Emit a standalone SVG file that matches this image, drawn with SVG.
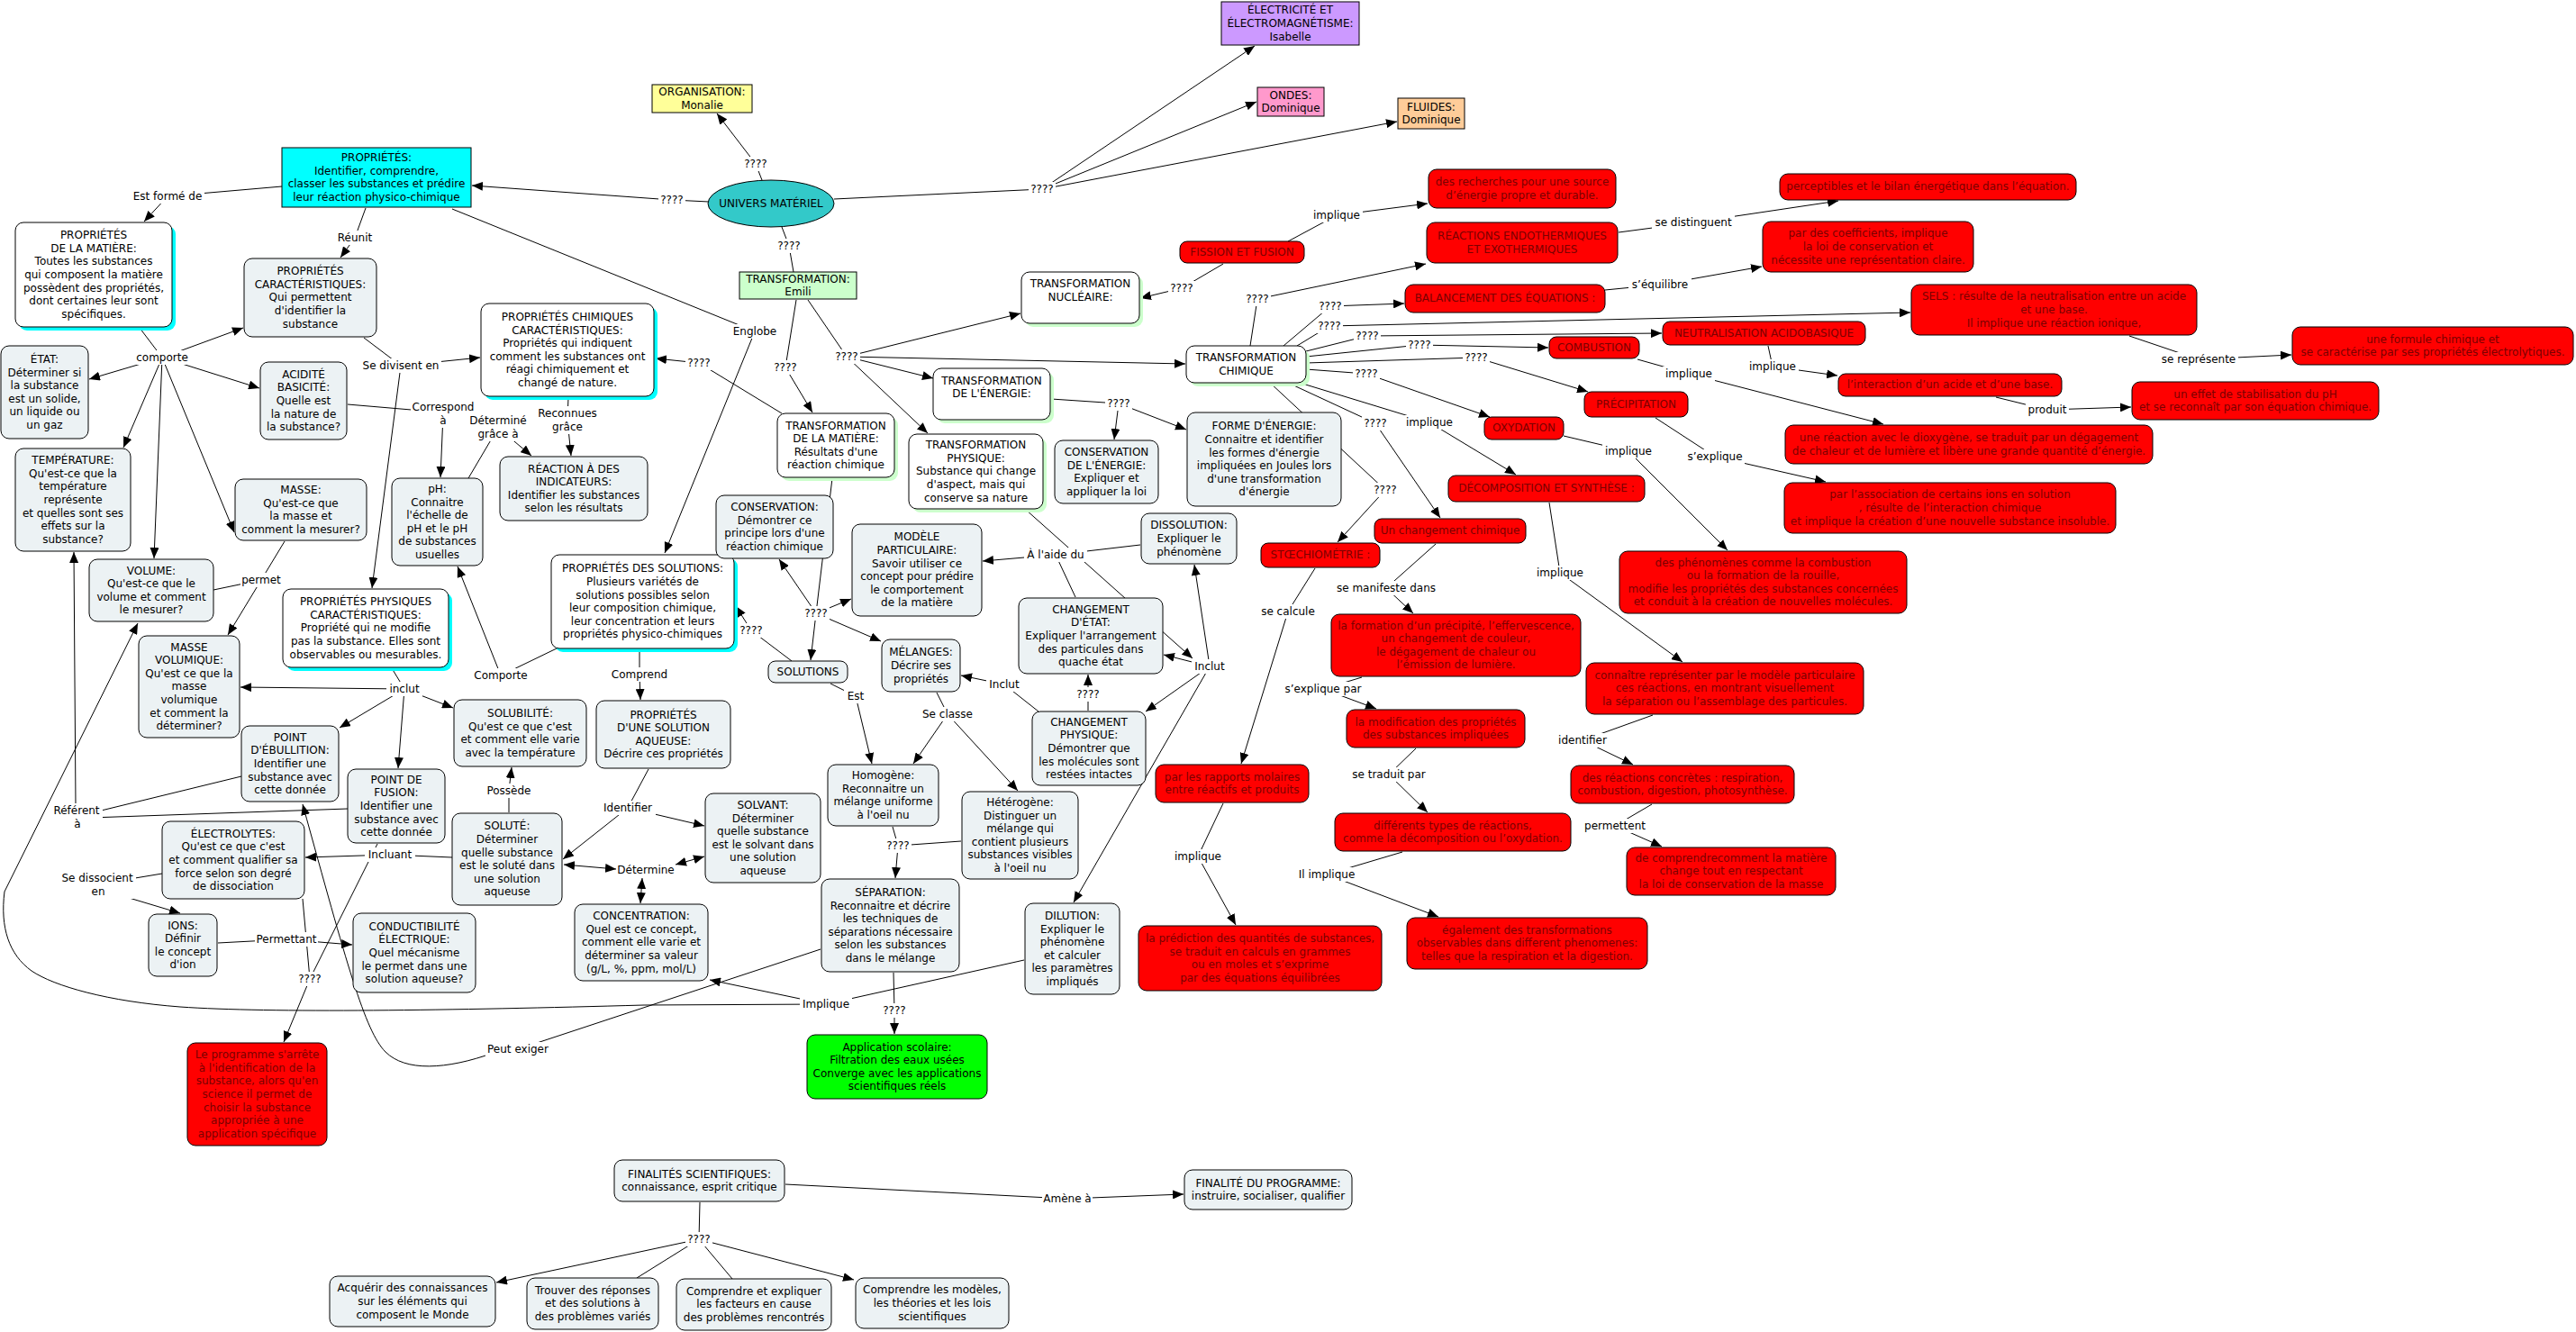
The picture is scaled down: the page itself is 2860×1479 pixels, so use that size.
<svg xmlns="http://www.w3.org/2000/svg" width="2860" height="1479" viewBox="0 0 2860 1479">
<style>
text{font-family:"DejaVu Sans",Verdana,"Liberation Sans",sans-serif;font-size:12px;text-anchor:middle;fill:#000}
.rt{fill:#7a0000}
.c{fill:none;stroke:#000;stroke-width:1}
.a{fill:none;stroke:#000;stroke-width:1;marker-end:url(#ah)}
.d{fill:none;stroke:#000;stroke-width:1;marker-end:url(#ah);marker-start:url(#ahs)}
.lb rect{fill:#fff;stroke:none}
.b{stroke:#000;stroke-width:1}
.lt{fill:#ecf2f4}
.wh{fill:#fff}
.rd{fill:#ff0000}
.shc{fill:#00ffff}
.shg{fill:#ccffcc}
</style>
<defs>
<marker id="ah" viewBox="0 0 12 10" refX="12" refY="5" markerWidth="12" markerHeight="10" markerUnits="userSpaceOnUse" orient="auto"><path d="M0,0 L12,5 L0,10 z" fill="#000"/></marker>
<marker id="ahs" viewBox="0 0 12 10" refX="12" refY="5" markerWidth="12" markerHeight="10" markerUnits="userSpaceOnUse" orient="auto-start-reverse"><path d="M0,0 L12,5 L0,10 z" fill="#000"/></marker>
</defs>
<rect x="0" y="0" width="2860" height="1479" fill="#fff"/>
<g id="connectors">
<path class="c" d="M846,200 L839,182"/><path class="a" d="M839,182 L796,126"/>
<path class="c" d="M787,224 L746,222"/><path class="a" d="M746,222 L524,206"/>
<path class="c" d="M926,221 L1157,210"/><path class="a" d="M1157,210 L1393,51"/><path class="a" d="M1157,210 L1395,113"/><path class="a" d="M1157,210 L1551,135"/>
<path class="c" d="M868,252 L876,273 L881,302"/>
<path class="c" d="M313,207 L186,218"/><path class="a" d="M186,218 L160,246"/>
<path class="c" d="M406,231 L394,264"/><path class="a" d="M394,264 L378,286"/>
<path class="c" d="M502,232 L838,368"/><path class="a" d="M838,368 L738,614"/>
<path class="c" d="M155,364 L180,397"/>
<path class="a" d="M180,397 L270,364"/><path class="a" d="M180,397 L99,421"/><path class="a" d="M180,397 L288,431"/><path class="a" d="M180,397 L137,497"/><path class="a" d="M180,397 L171,620"/><path class="a" d="M180,397 L260,591"/>
<path class="c" d="M404,375 L445,406"/><path class="a" d="M445,406 L533,397"/><path class="a" d="M445,406 L413,653"/>
<path class="c" d="M386,449 L492,458"/><path class="a" d="M492,460 L489,530"/>
<path class="c" d="M520,531 L553,475"/><path class="a" d="M553,475 L590,506"/>
<path class="c" d="M631,441 L630,466"/><path class="a" d="M630,466 L634,506"/>
<path class="c" d="M316,601 L290,644"/><path class="c" d="M237,655 L290,644"/><path class="a" d="M290,644 L253,705"/>
<path class="c" d="M435,742 L449,765"/><path class="a" d="M449,765 L267,763"/><path class="a" d="M449,765 L377,808"/><path class="a" d="M449,765 L442,853"/><path class="a" d="M449,765 L503,786"/>
<path class="c" d="M618,720 L556,750"/><path class="a" d="M556,750 L508,629"/>
<path class="c" d="M710,721 L710,749"/><path class="a" d="M710,749 L711,777"/>
<path class="c" d="M565,902 L565,878"/><path class="a" d="M565,878 L568,852"/>
<path class="c" d="M720,854 L697,897"/><path class="a" d="M697,897 L625,954"/><path class="a" d="M697,897 L782,917"/>
<path class="d" d="M684,965 L626,960"/><path class="d" d="M750,960 L782,951"/><path class="d" d="M713,975 L711,1003"/>
<path class="c" d="M268,862 L100,903"/><path class="c" d="M386,898 L100,908"/><path class="a" d="M84,895 L82,613"/>
<path class="c" d="M502,952 L433,949"/><path class="a" d="M433,949 L339,952"/>
<path class="c" d="M180,970 L108,982"/><path class="a" d="M120,990 L200,1014"/>
<path class="c" d="M242,1047 L318,1043"/><path class="a" d="M318,1043 L391,1049"/>
<path class="c" d="M336,998 L344,1087"/><path class="c" d="M419,937 L344,1087"/><path class="a" d="M344,1087 L315,1157"/>
<path class="c" d="M911,1054 L575,1165"/>
<path class="a" d="M548,1169 C495,1188 450,1190 428,1168 C405,1145 385,1070 336,893"/>
<path class="c" d="M1137,1066 L917,1115"/><path class="a" d="M917,1115 L788,1088"/>
<path class="a" d="M917,1115 L715,1116 C500,1122 300,1125 200,1118 C120,1112 60,1095 35,1078 C10,1060 0,1030 5,990 L153,692"/>
<path class="c" d="M992,1080 L993,1122"/><path class="a" d="M993,1122 L993,1148"/>
<path class="c" d="M991,918 L997,939"/><path class="c" d="M1067,934 L997,939"/><path class="a" d="M997,939 L994,975"/>
<path class="c" d="M922,759 L950,773"/><path class="a" d="M950,773 L968,848"/>
<path class="c" d="M1040,769 L1052,793"/><path class="a" d="M1052,793 L1014,848"/><path class="a" d="M1052,793 L1130,878"/>
<path class="c" d="M1153,790 L1115,760"/><path class="a" d="M1115,760 L1067,750"/>
<path class="c" d="M1208,789 L1208,771"/><path class="a" d="M1208,771 L1208,749"/>
<path class="a" d="M1139,566 L1324,731"/>
<path class="a" d="M1343,740 L1326,627"/><path class="a" d="M1343,740 L1292,727"/><path class="a" d="M1343,740 L1272,790"/><path class="a" d="M1343,740 L1192,1002"/>
<path class="c" d="M1266,605 L1172,616"/><path class="c" d="M1194,663 L1172,616"/><path class="a" d="M1172,616 L1091,623"/>
<path class="c" d="M924,531 L906,681"/><path class="a" d="M906,681 L865,621"/><path class="a" d="M906,681 L945,665"/><path class="a" d="M906,681 L978,712"/><path class="a" d="M906,681 L900,733"/>
<path class="c" d="M879,734 L834,700"/><path class="a" d="M834,700 L817,673"/>
<path class="c" d="M868,459 L776,403"/><path class="a" d="M776,403 L728,398"/>
<path class="c" d="M884,333 L872,408"/><path class="a" d="M872,408 L902,458"/>
<path class="c" d="M897,333 L940,396"/><path class="a" d="M940,396 L1133,348"/><path class="a" d="M940,396 L1316,404"/><path class="a" d="M940,396 L1036,420"/><path class="a" d="M940,396 L1030,481"/>
<path class="c" d="M1167,443 L1242,448"/><path class="a" d="M1242,448 L1237,488"/><path class="a" d="M1242,448 L1317,477"/>
<path class="c" d="M1358,293 L1312,320"/><path class="a" d="M1312,320 L1266,331"/>
<path class="c" d="M1430,268 L1484,239"/><path class="a" d="M1484,239 L1585,226"/>
<path class="c" d="M1388,384 L1396,332"/><path class="a" d="M1396,332 L1583,293"/>
<path class="c" d="M1797,258 L1880,247"/><path class="a" d="M1880,247 L2041,223"/>
<path class="c" d="M1425,384 L1477,340"/><path class="a" d="M1477,340 L1559,337"/>
<path class="c" d="M1782,322 L1843,316"/><path class="a" d="M1843,316 L1956,296"/>
<path class="c" d="M1440,384 L1476,362"/><path class="a" d="M1476,362 L2121,347"/>
<path class="c" d="M1450,390 L1518,373"/><path class="a" d="M1518,373 L1845,370"/>
<path class="c" d="M1450,396 L1576,383"/><path class="a" d="M1576,383 L1719,386"/>
<path class="c" d="M1450,403 L1639,397"/><path class="a" d="M1639,397 L1763,435"/>
<path class="c" d="M1450,410 L1517,415"/><path class="a" d="M1517,415 L1654,463"/>
<path class="c" d="M1443,425 L1587,469"/><path class="a" d="M1587,469 L1683,527"/>
<path class="c" d="M1430,425 L1527,470"/><path class="a" d="M1527,470 L1599,575"/>
<path class="c" d="M1410,425 L1538,544"/><path class="a" d="M1538,544 L1485,602"/>
<path class="c" d="M1818,399 L1875,415"/><path class="a" d="M1875,415 L2091,471"/>
<path class="c" d="M1963,384 L1968,407"/><path class="a" d="M1968,407 L2040,417"/>
<path class="c" d="M2216,441 L2273,455"/><path class="a" d="M2273,455 L2366,452"/>
<path class="c" d="M2364,373 L2441,399"/><path class="a" d="M2441,399 L2544,394"/>
<path class="c" d="M1838,464 L1904,507"/><path class="a" d="M1904,507 L2027,535"/>
<path class="c" d="M1736,484 L1808,501"/><path class="a" d="M1808,501 L1918,611"/>
<path class="c" d="M1720,558 L1732,636"/><path class="a" d="M1732,636 L1868,735"/>
<path class="c" d="M1835,794 L1757,822"/><path class="a" d="M1757,822 L1813,849"/>
<path class="c" d="M1834,893 L1793,917"/><path class="a" d="M1793,917 L1845,940"/>
<path class="c" d="M1594,604 L1539,653"/><path class="a" d="M1539,653 L1569,681"/>
<path class="c" d="M1512,752 L1469,765"/><path class="a" d="M1469,765 L1528,787"/>
<path class="c" d="M1572,831 L1542,860"/><path class="a" d="M1542,860 L1585,902"/>
<path class="c" d="M1557,946 L1473,971"/><path class="a" d="M1473,971 L1597,1018"/>
<path class="c" d="M1460,631 L1430,679"/><path class="a" d="M1430,679 L1378,848"/>
<path class="c" d="M1358,892 L1330,951"/><path class="a" d="M1330,951 L1372,1027"/>
<path class="c" d="M872,1315 L1185,1331"/><path class="a" d="M1185,1331 L1314,1326"/>
<path class="c" d="M777,1335 L776,1376"/><path class="a" d="M776,1376 L551,1424"/><path class="c" d="M776,1376 L707,1419"/><path class="c" d="M776,1376 L813,1420"/><path class="a" d="M776,1376 L948,1421"/>
<g class="lb">
<rect x="824" y="174" width="30" height="16"/><text x="839" y="186">????</text>
<rect x="731" y="214" width="30" height="16"/><text x="746" y="226">????</text>
<rect x="1142" y="202" width="30" height="16"/><text x="1157" y="214">????</text>
<rect x="861" y="265" width="30" height="16"/><text x="876" y="277">????</text>
<rect x="145" y="210" width="82" height="16"/><text x="186" y="222">Est formé de</text>
<rect x="372" y="256" width="44" height="16"/><text x="394" y="268">Réunit</text>
<rect x="149" y="389" width="62" height="16"/><text x="180" y="401">comporte</text>
<rect x="400" y="398" width="90" height="16"/><text x="445" y="410">Se divisent en</text>
<rect x="456" y="444" width="72" height="31"/><text x="492" y="456">Correspond</text><text x="492" y="471">à</text>
<rect x="520" y="459" width="66" height="31"/><text x="553" y="471">Déterminé</text><text x="553" y="486">grâce à</text>
<rect x="596" y="451" width="68" height="31"/><text x="630" y="463">Reconnues</text><text x="630" y="478">grâce</text>
<rect x="811" y="360" width="54" height="16"/><text x="838" y="372">Englobe</text>
<rect x="267" y="636" width="46" height="16"/><text x="290" y="648">permet</text>
<rect x="429" y="757" width="40" height="16"/><text x="449" y="769">inclut</text>
<rect x="524" y="742" width="64" height="16"/><text x="556" y="754">Comporte</text>
<rect x="677" y="741" width="66" height="16"/><text x="710" y="753">Comprend</text>
<rect x="538" y="870" width="54" height="16"/><text x="565" y="882">Possède</text>
<rect x="666" y="889" width="62" height="16"/><text x="697" y="901">Identifier</text>
<rect x="685" y="958" width="64" height="16"/><text x="717" y="970">Détermine</text>
<rect x="56" y="892" width="58" height="31"/><text x="85" y="904">Référent</text><text x="86" y="919">à</text>
<rect x="405" y="941" width="56" height="16"/><text x="433" y="953">Incluant</text>
<rect x="65" y="967" width="86" height="31"/><text x="108" y="979">Se dissocient</text><text x="109" y="994">en</text>
<rect x="283" y="1035" width="70" height="16"/><text x="318" y="1047">Permettant</text>
<rect x="329" y="1079" width="30" height="16"/><text x="344" y="1091">????</text>
<rect x="539" y="1157" width="72" height="16"/><text x="575" y="1169">Peut exiger</text>
<rect x="888" y="1107" width="58" height="16"/><text x="917" y="1119">Implique</text>
<rect x="978" y="1114" width="30" height="16"/><text x="993" y="1126">????</text>
<rect x="982" y="931" width="30" height="16"/><text x="997" y="943">????</text>
<rect x="937" y="765" width="26" height="16"/><text x="950" y="777">Est</text>
<rect x="1021" y="785" width="62" height="16"/><text x="1052" y="797">Se classe</text>
<rect x="1095" y="752" width="40" height="16"/><text x="1115" y="764">Inclut</text>
<rect x="1193" y="763" width="30" height="16"/><text x="1208" y="775">????</text>
<rect x="1323" y="732" width="40" height="16"/><text x="1343" y="744">Inclut</text>
<rect x="1137" y="608" width="70" height="16"/><text x="1172" y="620">À l'aide du</text>
<rect x="891" y="673" width="30" height="16"/><text x="906" y="685">????</text>
<rect x="819" y="692" width="30" height="16"/><text x="834" y="704">????</text>
<rect x="761" y="395" width="30" height="16"/><text x="776" y="407">????</text>
<rect x="857" y="400" width="30" height="16"/><text x="872" y="412">????</text>
<rect x="925" y="388" width="30" height="16"/><text x="940" y="400">????</text>
<rect x="1227" y="440" width="30" height="16"/><text x="1242" y="452">????</text>
<rect x="1297" y="312" width="30" height="16"/><text x="1312" y="324">????</text>
<rect x="1455" y="231" width="58" height="16"/><text x="1484" y="243">implique</text>
<rect x="1381" y="324" width="30" height="16"/><text x="1396" y="336">????</text>
<rect x="1834" y="239" width="92" height="16"/><text x="1880" y="251">se distinguent</text>
<rect x="1462" y="332" width="30" height="16"/><text x="1477" y="344">????</text>
<rect x="1808" y="308" width="70" height="16"/><text x="1843" y="320">s’équilibre</text>
<rect x="1461" y="354" width="30" height="16"/><text x="1476" y="366">????</text>
<rect x="1503" y="365" width="30" height="16"/><text x="1518" y="377">????</text>
<rect x="1561" y="375" width="30" height="16"/><text x="1576" y="387">????</text>
<rect x="1624" y="389" width="30" height="16"/><text x="1639" y="401">????</text>
<rect x="1502" y="407" width="30" height="16"/><text x="1517" y="419">????</text>
<rect x="1558" y="461" width="58" height="16"/><text x="1587" y="473">implique</text>
<rect x="1512" y="462" width="30" height="16"/><text x="1527" y="474">????</text>
<rect x="1523" y="536" width="30" height="16"/><text x="1538" y="548">????</text>
<rect x="1846" y="407" width="58" height="16"/><text x="1875" y="419">implique</text>
<rect x="1939" y="399" width="58" height="16"/><text x="1968" y="411">implique</text>
<rect x="2249" y="447" width="48" height="16"/><text x="2273" y="459">produit</text>
<rect x="2397" y="391" width="88" height="16"/><text x="2441" y="403">se représente</text>
<rect x="1871" y="499" width="66" height="16"/><text x="1904" y="511">s’explique</text>
<rect x="1779" y="493" width="58" height="16"/><text x="1808" y="505">implique</text>
<rect x="1703" y="628" width="58" height="16"/><text x="1732" y="640">implique</text>
<rect x="1727" y="814" width="60" height="16"/><text x="1757" y="826">identifier</text>
<rect x="1757" y="909" width="72" height="16"/><text x="1793" y="921">permettent</text>
<rect x="1483" y="645" width="112" height="16"/><text x="1539" y="657">se manifeste dans</text>
<rect x="1423" y="757" width="92" height="16"/><text x="1469" y="769">s’explique par</text>
<rect x="1497" y="852" width="90" height="16"/><text x="1542" y="864">se traduit par</text>
<rect x="1439" y="963" width="68" height="16"/><text x="1473" y="975">Il implique</text>
<rect x="1396" y="671" width="68" height="16"/><text x="1430" y="683">se calcule</text>
<rect x="1301" y="943" width="58" height="16"/><text x="1330" y="955">implique</text>
<rect x="1157" y="1323" width="56" height="16"/><text x="1185" y="1335">Amène à</text>
<rect x="761" y="1368" width="30" height="16"/><text x="776" y="1380">????</text>
</g>
</g>
<g id="n-elec"><rect class="b" x="1356" y="2" width="153" height="48" fill="#cc99ff"/><text x="1432.5" y="15.3"><tspan x="1432.5">ÉLECTRICITÉ ET</tspan><tspan x="1432.5" dy="14.6">ÉLECTROMAGNÉTISME:</tspan><tspan x="1432.5" dy="14.6">Isabelle</tspan></text></g>
<g id="n-org"><rect class="b" x="724" y="94" width="111" height="31" fill="#ffff99"/><text x="779.5" y="106.1"><tspan x="779.5">ORGANISATION:</tspan><tspan x="779.5" dy="14.6">Monalie</tspan></text></g>
<g id="n-ondes"><rect class="b" x="1396" y="97" width="74" height="32" fill="#ff99cc"/><text x="1433" y="109.6"><tspan x="1433">ONDES:</tspan><tspan x="1433" dy="14.6">Dominique</tspan></text></g>
<g id="n-fluides"><rect class="b" x="1552" y="109" width="74" height="34" fill="#ffcc99"/><text x="1589" y="122.6"><tspan x="1589">FLUIDES:</tspan><tspan x="1589" dy="14.6">Dominique</tspan></text></g>
<g id="n-univers"><ellipse class="b" cx="856" cy="226" rx="70" ry="26" fill="#33c9c9"/><text x="856" y="229.9">UNIVERS MATÉRIEL</text></g>
<g id="n-prop"><rect class="b" x="313" y="164" width="210" height="66" fill="#00ffff"/><text x="418" y="179"><tspan x="418">PROPRIÉTÉS:</tspan><tspan x="418" dy="14.6">Identifier, comprendre,</tspan><tspan x="418" dy="14.6">classer les substances et prédire</tspan><tspan x="418" dy="14.6">leur réaction physico-chimique</tspan></text></g>
<g id="n-propmat"><rect class="shc" x="21" y="251" width="174" height="116" rx="9"/><rect class="b wh" x="17" y="247" width="174" height="116" rx="9"/><text x="104" y="265.1"><tspan x="104">PROPRIÉTÉS</tspan><tspan x="104" dy="14.6">DE LA MATIÈRE:</tspan><tspan x="104" dy="14.6">Toutes les substances</tspan><tspan x="104" dy="14.6">qui composent la matière</tspan><tspan x="104" dy="14.6">possèdent des propriétés,</tspan><tspan x="104" dy="14.6">dont certaines leur sont</tspan><tspan x="104" dy="14.6">spécifiques.</tspan></text></g>
<g id="n-propcar"><rect class="b lt" x="271" y="287" width="147" height="87" rx="9"/><text x="344.5" y="305.2"><tspan x="344.5">PROPRIÉTÉS</tspan><tspan x="344.5" dy="14.6">CARACTÉRISTIQUES:</tspan><tspan x="344.5" dy="14.6">Qui permettent</tspan><tspan x="344.5" dy="14.6">d'identifier la</tspan><tspan x="344.5" dy="14.6">substance</tspan></text></g>
<g id="n-etat"><rect class="b lt" x="1" y="384" width="97" height="103" rx="9"/><text x="49.5" y="402.9"><tspan x="49.5">ÉTAT:</tspan><tspan x="49.5" dy="14.6">Déterminer si</tspan><tspan x="49.5" dy="14.6">la substance</tspan><tspan x="49.5" dy="14.6">est un solide,</tspan><tspan x="49.5" dy="14.6">un liquide ou</tspan><tspan x="49.5" dy="14.6">un gaz</tspan></text></g>
<g id="n-acid"><rect class="b lt" x="289" y="402" width="96" height="86" rx="9"/><text x="337" y="419.7"><tspan x="337">ACIDITÉ</tspan><tspan x="337" dy="14.6">BASICITÉ:</tspan><tspan x="337" dy="14.6">Quelle est</tspan><tspan x="337" dy="14.6">la nature de</tspan><tspan x="337" dy="14.6">la substance?</tspan></text></g>
<g id="n-propchim"><rect class="shc" x="538" y="341" width="192" height="103" rx="9"/><rect class="b wh" x="534" y="337" width="192" height="103" rx="9"/><text x="630" y="355.9"><tspan x="630">PROPRIÉTÉS CHIMIQUES</tspan><tspan x="630" dy="14.6">CARACTÉRISTIQUES:</tspan><tspan x="630" dy="14.6">Propriétés qui indiquent</tspan><tspan x="630" dy="14.6">comment les substances ont</tspan><tspan x="630" dy="14.6">réagi chimiquement et</tspan><tspan x="630" dy="14.6">changé de nature.</tspan></text></g>
<g id="n-temp"><rect class="b lt" x="17" y="498" width="128" height="114" rx="9"/><text x="81" y="515.1"><tspan x="81">TEMPÉRATURE:</tspan><tspan x="81" dy="14.6">Qu'est-ce que la</tspan><tspan x="81" dy="14.6">température</tspan><tspan x="81" dy="14.6">représente</tspan><tspan x="81" dy="14.6">et quelles sont ses</tspan><tspan x="81" dy="14.6">effets sur la</tspan><tspan x="81" dy="14.6">substance?</tspan></text></g>
<g id="n-masse"><rect class="b lt" x="261" y="532" width="146" height="68" rx="9"/><text x="334" y="548"><tspan x="334">MASSE:</tspan><tspan x="334" dy="14.6">Qu'est-ce que</tspan><tspan x="334" dy="14.6">la masse et</tspan><tspan x="334" dy="14.6">comment la mesurer?</tspan></text></g>
<g id="n-ph"><rect class="b lt" x="435" y="531" width="101" height="97" rx="9"/><text x="485.5" y="546.9"><tspan x="485.5">pH:</tspan><tspan x="485.5" dy="14.6">Connaitre</tspan><tspan x="485.5" dy="14.6">l'échelle de</tspan><tspan x="485.5" dy="14.6">pH et le pH</tspan><tspan x="485.5" dy="14.6">de substances</tspan><tspan x="485.5" dy="14.6">usuelles</tspan></text></g>
<g id="n-reac"><rect class="b lt" x="555" y="507" width="164" height="71" rx="9"/><text x="637" y="524.5"><tspan x="637">RÉACTION À DES</tspan><tspan x="637" dy="14.6">INDICATEURS:</tspan><tspan x="637" dy="14.6">Identifier les substances</tspan><tspan x="637" dy="14.6">selon les résultats</tspan></text></g>
<g id="n-volume"><rect class="b lt" x="99" y="621" width="138" height="69" rx="9"/><text x="168" y="637.5"><tspan x="168">VOLUME:</tspan><tspan x="168" dy="14.6">Qu'est-ce que le</tspan><tspan x="168" dy="14.6">volume et comment</tspan><tspan x="168" dy="14.6">le mesurer?</tspan></text></g>
<g id="n-propphys"><rect class="shc" x="318" y="658" width="184" height="87" rx="9"/><rect class="b wh" x="314" y="654" width="184" height="87" rx="9"/><text x="406" y="672.2"><tspan x="406">PROPRIÉTÉS PHYSIQUES</tspan><tspan x="406" dy="14.6">CARACTÉRISTIQUES:</tspan><tspan x="406" dy="14.6">Propriété qui ne modifie</tspan><tspan x="406" dy="14.6">pas la substance. Elles sont</tspan><tspan x="406" dy="14.6">observables ou mesurables.</tspan></text></g>
<g id="n-massevol"><rect class="b lt" x="154" y="706" width="112" height="113" rx="9"/><text x="210" y="722.6"><tspan x="210">MASSE</tspan><tspan x="210" dy="14.6">VOLUMIQUE:</tspan><tspan x="210" dy="14.6">Qu'est ce que la</tspan><tspan x="210" dy="14.6">masse</tspan><tspan x="210" dy="14.6">volumique</tspan><tspan x="210" dy="14.6">et comment la</tspan><tspan x="210" dy="14.6">déterminer?</tspan></text></g>
<g id="n-propsol"><rect class="shc" x="616" y="620" width="203" height="104" rx="9"/><rect class="b wh" x="612" y="616" width="203" height="104" rx="9"/><text x="713.5" y="635.4"><tspan x="713.5">PROPRIÉTÉS DES SOLUTIONS:</tspan><tspan x="713.5" dy="14.6">Plusieurs variétés de</tspan><tspan x="713.5" dy="14.6">solutions possibles selon</tspan><tspan x="713.5" dy="14.6">leur composition chimique,</tspan><tspan x="713.5" dy="14.6">leur concentration et leurs</tspan><tspan x="713.5" dy="14.6">propriétés physico-chimiques</tspan></text></g>
<g id="n-ebul"><rect class="b lt" x="268" y="806" width="108" height="84" rx="9"/><text x="322" y="822.7"><tspan x="322">POINT</tspan><tspan x="322" dy="14.6">D'ÉBULLITION:</tspan><tspan x="322" dy="14.6">Identifier une</tspan><tspan x="322" dy="14.6">substance avec</tspan><tspan x="322" dy="14.6">cette donnée</tspan></text></g>
<g id="n-fusion"><rect class="b lt" x="386" y="854" width="108" height="82" rx="9"/><text x="440" y="869.7"><tspan x="440">POINT DE</tspan><tspan x="440" dy="14.6">FUSION:</tspan><tspan x="440" dy="14.6">Identifier une</tspan><tspan x="440" dy="14.6">substance avec</tspan><tspan x="440" dy="14.6">cette donnée</tspan></text></g>
<g id="n-solub"><rect class="b lt" x="504" y="777" width="147" height="74" rx="9"/><text x="577.5" y="796"><tspan x="577.5">SOLUBILITÉ:</tspan><tspan x="577.5" dy="14.6">Qu'est ce que c'est</tspan><tspan x="577.5" dy="14.6">et comment elle varie</tspan><tspan x="577.5" dy="14.6">avec la température</tspan></text></g>
<g id="n-aqueuse"><rect class="b lt" x="662" y="778" width="149" height="75" rx="9"/><text x="736.5" y="797.5"><tspan x="736.5">PROPRIÉTÉS</tspan><tspan x="736.5" dy="14.6">D'UNE SOLUTION</tspan><tspan x="736.5" dy="14.6">AQUEUSE:</tspan><tspan x="736.5" dy="14.6">Décrire ces propriétés</tspan></text></g>
<g id="n-solute"><rect class="b lt" x="502" y="903" width="122" height="102" rx="9"/><text x="563" y="921.4"><tspan x="563">SOLUTÉ:</tspan><tspan x="563" dy="14.6">Déterminer</tspan><tspan x="563" dy="14.6">quelle substance</tspan><tspan x="563" dy="14.6">est le soluté dans</tspan><tspan x="563" dy="14.6">une solution</tspan><tspan x="563" dy="14.6">aqueuse</tspan></text></g>
<g id="n-solvant"><rect class="b lt" x="783" y="881" width="128" height="99" rx="9"/><text x="847" y="897.9"><tspan x="847">SOLVANT:</tspan><tspan x="847" dy="14.6">Déterminer</tspan><tspan x="847" dy="14.6">quelle substance</tspan><tspan x="847" dy="14.6">est le solvant dans</tspan><tspan x="847" dy="14.6">une solution</tspan><tspan x="847" dy="14.6">aqueuse</tspan></text></g>
<g id="n-electro"><rect class="b lt" x="180" y="912" width="158" height="86" rx="9"/><text x="259" y="929.7"><tspan x="259">ÉLECTROLYTES:</tspan><tspan x="259" dy="14.6">Qu'est ce que c'est</tspan><tspan x="259" dy="14.6">et comment qualifier sa</tspan><tspan x="259" dy="14.6">force selon son degré</tspan><tspan x="259" dy="14.6">de dissociation</tspan></text></g>
<g id="n-ions"><rect class="b lt" x="165" y="1015" width="76" height="69" rx="9"/><text x="203" y="1031.5"><tspan x="203">IONS:</tspan><tspan x="203" dy="14.6">Définir</tspan><tspan x="203" dy="14.6">le concept</tspan><tspan x="203" dy="14.6">d'ion</tspan></text></g>
<g id="n-conduct"><rect class="b lt" x="392" y="1014" width="136" height="88" rx="9"/><text x="460" y="1032.7"><tspan x="460">CONDUCTIBILITÉ</tspan><tspan x="460" dy="14.6">ÉLECTRIQUE:</tspan><tspan x="460" dy="14.6">Quel mécanisme</tspan><tspan x="460" dy="14.6">le permet dans une</tspan><tspan x="460" dy="14.6">solution aqueuse?</tspan></text></g>
<g id="n-concent"><rect class="b lt" x="638" y="1004" width="148" height="85" rx="9"/><text x="712" y="1021.2"><tspan x="712">CONCENTRATION:</tspan><tspan x="712" dy="14.6">Quel est ce concept,</tspan><tspan x="712" dy="14.6">comment elle varie et</tspan><tspan x="712" dy="14.6">déterminer sa valeur</tspan><tspan x="712" dy="14.6">(g/L, %, ppm, mol/L)</tspan></text></g>
<g id="n-programme"><rect class="b rd" x="208" y="1158" width="155" height="114" rx="9"/><text class="rt" x="285.5" y="1175.1"><tspan x="285.5">Le programme s'arrête</tspan><tspan x="285.5" dy="14.6">à l'identification de la</tspan><tspan x="285.5" dy="14.6">substance, alors qu'en</tspan><tspan x="285.5" dy="14.6">science il permet de</tspan><tspan x="285.5" dy="14.6">choisir la substance</tspan><tspan x="285.5" dy="14.6">appropriée à une</tspan><tspan x="285.5" dy="14.6">application spécifique</tspan></text></g>
<g id="n-trans"><rect class="b" x="821" y="302" width="130" height="30" fill="#ccffcc"/><text x="886" y="313.6"><tspan x="886">TRANSFORMATION:</tspan><tspan x="886" dy="14.6">Emili</tspan></text></g>
<g id="n-tnuc"><rect class="shg" x="1138" y="306" width="131" height="57" rx="9"/><rect class="b wh" x="1134" y="302" width="131" height="57" rx="9"/><text x="1199.5" y="319.3"><tspan x="1199.5">TRANSFORMATION</tspan><tspan x="1199.5" dy="14.6">NUCLÉAIRE:</tspan></text></g>
<g id="n-tchim"><rect class="shg" x="1321" y="388" width="133" height="41" rx="9"/><rect class="b wh" x="1317" y="384" width="133" height="41" rx="9"/><text x="1383.5" y="401.1"><tspan x="1383.5">TRANSFORMATION</tspan><tspan x="1383.5" dy="14.6">CHIMIQUE</tspan></text></g>
<g id="n-tener"><rect class="shg" x="1040" y="413" width="130" height="57" rx="9"/><rect class="b wh" x="1036" y="409" width="130" height="57" rx="9"/><text x="1101" y="426.8"><tspan x="1101">TRANSFORMATION</tspan><tspan x="1101" dy="14.6">DE L'ÉNERGIE:</tspan></text></g>
<g id="n-tmat"><rect class="shg" x="867" y="463" width="130" height="71" rx="9"/><rect class="b wh" x="863" y="459" width="130" height="71" rx="9"/><text x="928" y="476.5"><tspan x="928">TRANSFORMATION</tspan><tspan x="928" dy="14.6">DE LA MATIÈRE:</tspan><tspan x="928" dy="14.6">Résultats d'une</tspan><tspan x="928" dy="14.6">réaction chimique</tspan></text></g>
<g id="n-tphys"><rect class="shg" x="1013" y="486" width="149" height="83" rx="9"/><rect class="b wh" x="1009" y="482" width="149" height="83" rx="9"/><text x="1083.5" y="498.2"><tspan x="1083.5">TRANSFORMATION</tspan><tspan x="1083.5" dy="14.6">PHYSIQUE:</tspan><tspan x="1083.5" dy="14.6">Substance qui change</tspan><tspan x="1083.5" dy="14.6">d'aspect, mais qui</tspan><tspan x="1083.5" dy="14.6">conserve sa nature</tspan></text></g>
<g id="n-consener"><rect class="b lt" x="1171" y="489" width="115" height="70" rx="9"/><text x="1228.5" y="506"><tspan x="1228.5">CONSERVATION</tspan><tspan x="1228.5" dy="14.6">DE L'ÉNERGIE:</tspan><tspan x="1228.5" dy="14.6">Expliquer et</tspan><tspan x="1228.5" dy="14.6">appliquer la loi</tspan></text></g>
<g id="n-forme"><rect class="b lt" x="1318" y="458" width="171" height="104" rx="9"/><text x="1403.5" y="477.4"><tspan x="1403.5">FORME D'ÉNERGIE:</tspan><tspan x="1403.5" dy="14.6">Connaitre et identifier</tspan><tspan x="1403.5" dy="14.6">les formes d'énergie</tspan><tspan x="1403.5" dy="14.6">impliquées en Joules lors</tspan><tspan x="1403.5" dy="14.6">d'une transformation</tspan><tspan x="1403.5" dy="14.6">d'énergie</tspan></text></g>
<g id="n-fission"><rect class="b rd" x="1310" y="268" width="138" height="24" rx="8"/><text class="rt" x="1379" y="283.9">FISSION ET FUSION</text></g>
<g id="n-recherch"><rect class="b rd" x="1586" y="188" width="208" height="43" rx="9"/><text class="rt" x="1690" y="206.1"><tspan x="1690">des recherches pour une source</tspan><tspan x="1690" dy="14.6">d’énergie propre et durable.</tspan></text></g>
<g id="n-endo"><rect class="b rd" x="1584" y="247" width="212" height="45" rx="9"/><text class="rt" x="1690" y="266.1"><tspan x="1690">RÉACTIONS ENDOTHERMIQUES</tspan><tspan x="1690" dy="14.6">ET EXOTHERMIQUES</tspan></text></g>
<g id="n-percept"><rect class="b rd" x="1976" y="193" width="329" height="29" rx="9"/><text class="rt" x="2140.5" y="211.4">perceptibles et le bilan énergétique dans l’équation.</text></g>
<g id="n-balanc"><rect class="b rd" x="1560" y="316" width="222" height="31" rx="9"/><text class="rt" x="1671" y="335.4">BALANCEMENT DES ÉQUATIONS :</text></g>
<g id="n-coeff"><rect class="b rd" x="1957" y="246" width="234" height="56" rx="9"/><text class="rt" x="2074" y="263.3"><tspan x="2074">par des coefficients, implique</tspan><tspan x="2074" dy="14.6">la loi de conservation et</tspan><tspan x="2074" dy="14.6">nécessite une représentation claire.</tspan></text></g>
<g id="n-sels"><rect class="b rd" x="2122" y="316" width="317" height="56" rx="9"/><text class="rt" x="2280.5" y="333.3"><tspan x="2280.5">SELS : résulte de la neutralisation entre un acide</tspan><tspan x="2280.5" dy="14.6">et une base.</tspan><tspan x="2280.5" dy="14.6">Il implique une réaction ionique,</tspan></text></g>
<g id="n-neutral"><rect class="b rd" x="1846" y="357" width="225" height="26" rx="8"/><text class="rt" x="1958.5" y="373.9">NEUTRALISATION ACIDOBASIQUE</text></g>
<g id="n-combust"><rect class="b rd" x="1720" y="374" width="100" height="24" rx="8"/><text class="rt" x="1770" y="389.9">COMBUSTION</text></g>
<g id="n-precip"><rect class="b rd" x="1759" y="435" width="115" height="28" rx="8"/><text class="rt" x="1816.5" y="452.9">PRÉCIPITATION</text></g>
<g id="n-oxyd"><rect class="b rd" x="1648" y="463" width="88" height="25" rx="8"/><text class="rt" x="1692" y="479.4">OXYDATION</text></g>
<g id="n-formule"><rect class="b rd" x="2545" y="363" width="312" height="42" rx="9"/><text class="rt" x="2701" y="380.6"><tspan x="2701">une formule chimique et</tspan><tspan x="2701" dy="14.6">se caractérise par ses propriétés électrolytiques.</tspan></text></g>
<g id="n-interact"><rect class="b rd" x="2041" y="415" width="248" height="25" rx="8"/><text class="rt" x="2165" y="431.4">l’interaction d’un acide et d’une base.</text></g>
<g id="n-stabil"><rect class="b rd" x="2367" y="424" width="274" height="42" rx="9"/><text class="rt" x="2504" y="441.6"><tspan x="2504">un effet de stabilisation du pH</tspan><tspan x="2504" dy="14.6">et se reconnaît par son équation chimique.</tspan></text></g>
<g id="n-dioxy"><rect class="b rd" x="1982" y="472" width="408" height="43" rx="9"/><text class="rt" x="2186" y="490.1"><tspan x="2186">une réaction avec le dioxygène, se traduit par un dégagement</tspan><tspan x="2186" dy="14.6">de chaleur et de lumière et libère une grande quantité d’énergie.</tspan></text></g>
<g id="n-assoc"><rect class="b rd" x="1981" y="536" width="368" height="56" rx="9"/><text class="rt" x="2165" y="553.3"><tspan x="2165">par l’association de certains ions en solution</tspan><tspan x="2165" dy="14.6">, résulte de l’interaction chimique</tspan><tspan x="2165" dy="14.6">et implique la création d’une nouvelle substance insoluble.</tspan></text></g>
<g id="n-decomp"><rect class="b rd" x="1608" y="528" width="218" height="29" rx="8"/><text class="rt" x="1717" y="546.4">DÉCOMPOSITION ET SYNTHÈSE :</text></g>
<g id="n-chgchim"><rect class="b rd" x="1526" y="576" width="168" height="27" rx="8"/><text class="rt" x="1610" y="593.4">Un changement chimique</text></g>
<g id="n-stoech"><rect class="b rd" x="1400" y="603" width="132" height="27" rx="8"/><text class="rt" x="1466" y="620.4">STŒCHIOMÉTRIE :</text></g>
<g id="n-phenom"><rect class="b rd" x="1798" y="612" width="319" height="69" rx="9"/><text class="rt" x="1957.5" y="628.5"><tspan x="1957.5">des phénomènes comme la combustion</tspan><tspan x="1957.5" dy="14.6">ou la formation de la rouille,</tspan><tspan x="1957.5" dy="14.6">modifie les propriétés des substances concernées</tspan><tspan x="1957.5" dy="14.6">et conduit à la création de nouvelles molécules.</tspan></text></g>
<g id="n-formation"><rect class="b rd" x="1478" y="682" width="277" height="69" rx="9"/><text class="rt" x="1616.5" y="698.5"><tspan x="1616.5">la formation d’un précipité, l’effervescence,</tspan><tspan x="1616.5" dy="14.6">un changement de couleur,</tspan><tspan x="1616.5" dy="14.6">le dégagement de chaleur ou</tspan><tspan x="1616.5" dy="14.6">l’émission de lumière.</tspan></text></g>
<g id="n-connait"><rect class="b rd" x="1761" y="736" width="308" height="57" rx="9"/><text class="rt" x="1915" y="753.8"><tspan x="1915">connaître représenter par le modèle particulaire</tspan><tspan x="1915" dy="14.6">ces réactions, en montrant visuellement</tspan><tspan x="1915" dy="14.6">la séparation ou l’assemblage des particules.</tspan></text></g>
<g id="n-modif"><rect class="b rd" x="1495" y="788" width="198" height="42" rx="9"/><text class="rt" x="1594" y="805.6"><tspan x="1594">la modification des propriétés</tspan><tspan x="1594" dy="14.6">des substances impliquées</tspan></text></g>
<g id="n-reaccon"><rect class="b rd" x="1744" y="850" width="248" height="42" rx="9"/><text class="rt" x="1868" y="867.6"><tspan x="1868">des réactions concrètes : respiration,</tspan><tspan x="1868" dy="14.6">combustion, digestion, photosynthèse.</tspan></text></g>
<g id="n-rapports"><rect class="b rd" x="1283" y="849" width="170" height="42" rx="9"/><text class="rt" x="1368" y="866.6"><tspan x="1368">par les rapports molaires</tspan><tspan x="1368" dy="14.6">entre réactifs et produits</tspan></text></g>
<g id="n-differ"><rect class="b rd" x="1482" y="903" width="262" height="42" rx="9"/><text class="rt" x="1613" y="920.6"><tspan x="1613">différents types de réactions,</tspan><tspan x="1613" dy="14.6">comme la décomposition ou l’oxydation.</tspan></text></g>
<g id="n-comprendre"><rect class="b rd" x="1806" y="941" width="232" height="53" rx="9"/><text class="rt" x="1922" y="956.8"><tspan x="1922">de comprendrecomment la matière</tspan><tspan x="1922" dy="14.6">change tout en respectant</tspan><tspan x="1922" dy="14.6">la loi de conservation de la masse</tspan></text></g>
<g id="n-egalement"><rect class="b rd" x="1562" y="1019" width="267" height="57" rx="9"/><text class="rt" x="1695.5" y="1036.8"><tspan x="1695.5">également des transformations</tspan><tspan x="1695.5" dy="14.6">observables dans different phenomenes:</tspan><tspan x="1695.5" dy="14.6">telles que la respiration et la digestion.</tspan></text></g>
<g id="n-prediction"><rect class="b rd" x="1264" y="1028" width="270" height="72" rx="9"/><text class="rt" x="1399" y="1046"><tspan x="1399">la prédiction des quantités de substances,</tspan><tspan x="1399" dy="14.6">se traduit en calculs en grammes</tspan><tspan x="1399" dy="14.6">ou en moles et s’exprime</tspan><tspan x="1399" dy="14.6">par des équations équilibrées</tspan></text></g>
<g id="n-conserv"><rect class="b lt" x="795" y="550" width="130" height="70" rx="9"/><text x="860" y="567"><tspan x="860">CONSERVATION:</tspan><tspan x="860" dy="14.6">Démontrer ce</tspan><tspan x="860" dy="14.6">principe lors d'une</tspan><tspan x="860" dy="14.6">réaction chimique</tspan></text></g>
<g id="n-modele"><rect class="b lt" x="946" y="582" width="144" height="102" rx="9"/><text x="1018" y="600.4"><tspan x="1018">MODÈLE</tspan><tspan x="1018" dy="14.6">PARTICULAIRE:</tspan><tspan x="1018" dy="14.6">Savoir utiliser ce</tspan><tspan x="1018" dy="14.6">concept pour prédire</tspan><tspan x="1018" dy="14.6">le comportement</tspan><tspan x="1018" dy="14.6">de la matière</tspan></text></g>
<g id="n-dissol"><rect class="b lt" x="1267" y="570" width="106" height="56" rx="9"/><text x="1320" y="587.3"><tspan x="1320">DISSOLUTION:</tspan><tspan x="1320" dy="14.6">Expliquer le</tspan><tspan x="1320" dy="14.6">phénomène</tspan></text></g>
<g id="n-chgetat"><rect class="b lt" x="1131" y="664" width="160" height="84" rx="9"/><text x="1211" y="680.7"><tspan x="1211">CHANGEMENT</tspan><tspan x="1211" dy="14.6">D'ÉTAT:</tspan><tspan x="1211" dy="14.6">Expliquer l'arrangement</tspan><tspan x="1211" dy="14.6">des particules dans</tspan><tspan x="1211" dy="14.6">quache état</tspan></text></g>
<g id="n-chgphys"><rect class="b lt" x="1146" y="790" width="126" height="82" rx="9"/><text x="1209" y="805.7"><tspan x="1209">CHANGEMENT</tspan><tspan x="1209" dy="14.6">PHYSIQUE:</tspan><tspan x="1209" dy="14.6">Démontrer que</tspan><tspan x="1209" dy="14.6">les molécules sont</tspan><tspan x="1209" dy="14.6">restées intactes</tspan></text></g>
<g id="n-melanges"><rect class="b lt" x="979" y="710" width="87" height="58" rx="9"/><text x="1022.5" y="728.3"><tspan x="1022.5">MÉLANGES:</tspan><tspan x="1022.5" dy="14.6">Décrire ses</tspan><tspan x="1022.5" dy="14.6">propriétés</tspan></text></g>
<g id="n-solutions"><rect class="b lt" x="853" y="734" width="88" height="24" rx="8"/><text x="897" y="749.9">SOLUTIONS</text></g>
<g id="n-homog"><rect class="b lt" x="919" y="849" width="123" height="68" rx="9"/><text x="980.5" y="865"><tspan x="980.5">Homogène:</tspan><tspan x="980.5" dy="14.6">Reconnaitre un</tspan><tspan x="980.5" dy="14.6">mélange uniforme</tspan><tspan x="980.5" dy="14.6">à l'oeil nu</tspan></text></g>
<g id="n-hetero"><rect class="b lt" x="1068" y="879" width="129" height="97" rx="9"/><text x="1132.5" y="894.9"><tspan x="1132.5">Hétérogène:</tspan><tspan x="1132.5" dy="14.6">Distinguer un</tspan><tspan x="1132.5" dy="14.6">mélange qui</tspan><tspan x="1132.5" dy="14.6">contient plusieurs</tspan><tspan x="1132.5" dy="14.6">substances visibles</tspan><tspan x="1132.5" dy="14.6">à l'oeil nu</tspan></text></g>
<g id="n-separ"><rect class="b lt" x="912" y="976" width="153" height="103" rx="9"/><text x="988.5" y="994.9"><tspan x="988.5">SÉPARATION:</tspan><tspan x="988.5" dy="14.6">Reconnaitre et décrire</tspan><tspan x="988.5" dy="14.6">les techniques de</tspan><tspan x="988.5" dy="14.6">séparations nécessaire</tspan><tspan x="988.5" dy="14.6">selon les substances</tspan><tspan x="988.5" dy="14.6">dans le mélange</tspan></text></g>
<g id="n-appli"><rect class="b" x="896" y="1149" width="200" height="71" rx="9" fill="#00ff00"/><text x="996" y="1166.5"><tspan x="996">Application scolaire:</tspan><tspan x="996" dy="14.6">Filtration des eaux usées</tspan><tspan x="996" dy="14.6">Converge avec les applications</tspan><tspan x="996" dy="14.6">scientifiques réels</tspan></text></g>
<g id="n-dilution"><rect class="b lt" x="1138" y="1003" width="105" height="101" rx="9"/><text x="1190.5" y="1020.9"><tspan x="1190.5">DILUTION:</tspan><tspan x="1190.5" dy="14.6">Expliquer le</tspan><tspan x="1190.5" dy="14.6">phénomène</tspan><tspan x="1190.5" dy="14.6">et calculer</tspan><tspan x="1190.5" dy="14.6">les paramètres</tspan><tspan x="1190.5" dy="14.6">impliqués</tspan></text></g>
<g id="n-finsci"><rect class="b lt" x="682" y="1288" width="189" height="46" rx="9"/><text x="776.5" y="1307.6"><tspan x="776.5">FINALITÉS SCIENTIFIQUES:</tspan><tspan x="776.5" dy="14.6">connaissance, esprit critique</tspan></text></g>
<g id="n-finprog"><rect class="b lt" x="1315" y="1299" width="186" height="44" rx="9"/><text x="1408" y="1317.6"><tspan x="1408">FINALITÉ DU PROGRAMME:</tspan><tspan x="1408" dy="14.6">instruire, socialiser, qualifier</tspan></text></g>
<g id="n-acq"><rect class="b lt" x="366" y="1417" width="184" height="56" rx="9"/><text x="458" y="1434.3"><tspan x="458">Acquérir des connaissances</tspan><tspan x="458" dy="14.6">sur les éléments qui</tspan><tspan x="458" dy="14.6">composent le Monde</tspan></text></g>
<g id="n-trouver"><rect class="b lt" x="585" y="1419" width="146" height="57" rx="9"/><text x="658" y="1436.8"><tspan x="658">Trouver des réponses</tspan><tspan x="658" dy="14.6">et des solutions à</tspan><tspan x="658" dy="14.6">des problèmes variés</tspan></text></g>
<g id="n-compexp"><rect class="b lt" x="751" y="1420" width="172" height="57" rx="9"/><text x="837" y="1437.8"><tspan x="837">Comprendre et expliquer</tspan><tspan x="837" dy="14.6">les facteurs en cause</tspan><tspan x="837" dy="14.6">des problèmes rencontrés</tspan></text></g>
<g id="n-compmod"><rect class="b lt" x="950" y="1419" width="170" height="56" rx="9"/><text x="1035" y="1436.3"><tspan x="1035">Comprendre les modèles,</tspan><tspan x="1035" dy="14.6">les théories et les lois</tspan><tspan x="1035" dy="14.6">scientifiques</tspan></text></g>
</svg>
